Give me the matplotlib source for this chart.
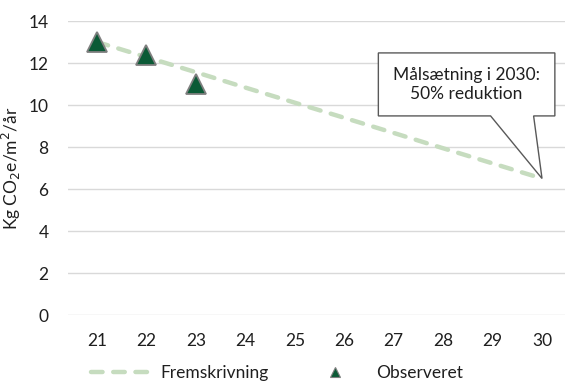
import numpy as np
import matplotlib

matplotlib.use("Agg")
import matplotlib.pyplot as plt
from matplotlib.lines import Line2D
from matplotlib.patches import Polygon

plt.rcParams["font.family"] = ["Lato", "DejaVu Sans"]

years = [21, 22, 23, 24, 25, 26, 27, 28, 29, 30]
year_labels = ["21", "22", "23", "24", "25", "26", "27", "28", "29", "30"]
projection = [13.0, 12.28, 11.56, 10.83, 10.11, 9.39, 8.67, 7.94, 7.22, 6.5]
obs_years = [21, 22, 23]
observed = [13.0, 12.4, 11.0]

LINE_GREEN = "#c6dcbf"
DARK_GREEN = "#0b5a36"
TEXT = "#1f1f1f"
FS = 12.5

fig = plt.figure(figsize=(5.65, 3.83), dpi=100)
ax = fig.add_axes([68 / 565, 1 - 315 / 383, 497 / 565, 294 / 383])

ax.plot(years, projection, color=LINE_GREEN, lw=3.2, dashes=(2.6, 2.4),
        dash_capstyle="round", solid_capstyle="round", zorder=2)
ax.plot(obs_years, observed, ls="none", marker="^", ms=15, mfc=DARK_GREEN,
        mec="#7f7f7f", mew=1.3, zorder=3, clip_on=False)

ax.set_xlim(20.413, 30.465)
ax.set_ylim(0, 14)
ax.set_xticks(years)
ax.set_xticklabels(year_labels)
ax.set_yticks(np.arange(0, 15, 2))
ax.grid(axis="y", color="#d9d9d9", lw=1)
ax.set_axisbelow(True)
for s in ax.spines.values():
    s.set_visible(False)
ax.tick_params(length=0, labelsize=FS, labelcolor=TEXT, pad=13)
ax.tick_params(axis="y", pad=14)
ax.set_ylabel("Kg CO$_2$e/m$^2$/år", fontsize=FS, color=TEXT, labelpad=4)

# callout pointing at the 2030 target
tip = (years[-1], projection[-1])
bl, br, bb, bt = 26.69, 30.26, 9.48, 12.48
callout = Polygon([(bl, bt), (br, bt), (br, bb), (29.83, bb), tip,
                   (28.96, bb), (bl, bb)], closed=True, fc="white",
                  ec="#595959", lw=1, zorder=4)
ax.add_patch(callout)
ax.text((bl + br) / 2, (bb + bt) / 2, "Målsætning i 2030:\n50% reduktion",
        ha="center", va="center", fontsize=FS, color=TEXT, zorder=5,
        linespacing=1.25)

handles = [
    Line2D([], [], color=LINE_GREEN, lw=3.2, dashes=(2.6, 2.4),
           dash_capstyle="round"),
    Line2D([], [], ls="none", marker="^", ms=7, mfc=DARK_GREEN,
           mec="#7f7f7f", mew=0.8),
]
fig.legend(handles, ["Fremskrivning", "Observeret"], loc="lower center",
           bbox_to_anchor=(0.49, -0.035), ncol=2, frameon=False,
           fontsize=FS, handlelength=3.3, handletextpad=0.7,
           columnspacing=2.2, labelcolor=TEXT)

fig.savefig("out.png", dpi=100)
